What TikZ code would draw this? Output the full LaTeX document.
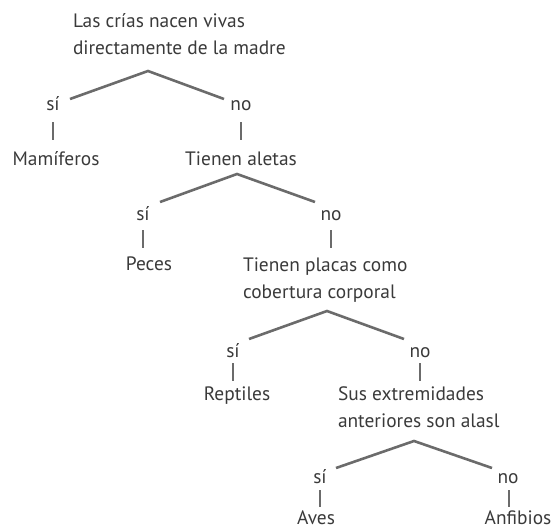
\documentclass[tikz,border=0pt]{standalone}
\usepackage{fontspec}
\setmainfont{PT Sans}
\definecolor{txtc}{HTML}{3A3A3A}
\definecolor{linec}{HTML}{6B6B6B}
\begin{document}
\begin{tikzpicture}[x=1pt,y=-1pt,
  lbl/.style={inner sep=0pt,outer sep=0pt,text=txtc,font=\fontsize{19.4}{27}\selectfont,anchor=base},
  lblw/.style={lbl,anchor=base west,align=left},
  branch/.style={draw=linec,line width=2.6pt},
  tick/.style={draw=linec,line width=2pt}]
\useasboundingbox (0,0) rectangle (559,531);
% level 1
\node[lblw] (q1) at (73,54) {Las crías nacen vivas\\directamente de la madre};
\coordinate (p1) at (148,71);
\coordinate (p1l) at (70,99);
\coordinate (p1r) at (224,99);
\node[lbl] (s1) at (53,110) {sí};
\node[lbl] (n1) at (241,110) {no};
\coordinate (t1a) at (53,122); \coordinate (t1b) at (53,140);
\coordinate (u1a) at (241,122); \coordinate (u1b) at (241,140);
\node[lbl] (a1) at (56,165) {Mamíferos};
\node[lbl] (q2) at (241,165) {Tienen aletas};
\draw[branch] (p1l) -- (p1) -- (p1r);
\draw[tick] (t1a) -- (t1b);
\draw[tick] (u1a) -- (u1b);
% level 2
\coordinate (p2) at (237,174);
\coordinate (p2l) at (160,202);
\coordinate (p2r) at (315,202);
\node[lbl] (s2) at (143,220) {sí};
\node[lbl] (n2) at (331,220) {no};
\coordinate (t2a) at (143,230); \coordinate (t2b) at (143,248);
\coordinate (u2a) at (331,230); \coordinate (u2b) at (331,248);
\node[lbl] (a2) at (149,270) {Peces};
\node[lblw] (q3) at (243,298) {Tienen placas como\\cobertura corporal};
\draw[branch] (p2l) -- (p2) -- (p2r);
\draw[tick] (t2a) -- (t2b);
\draw[tick] (u2a) -- (u2b);
% level 3
\coordinate (p3) at (327,311);
\coordinate (p3l) at (249,339);
\coordinate (p3r) at (404,339);
\node[lbl] (s3) at (233,357) {sí};
\node[lbl] (n3) at (420,357) {no};
\coordinate (t3a) at (233,363); \coordinate (t3b) at (233,381);
\coordinate (u3a) at (420,363); \coordinate (u3b) at (420,381);
\node[lbl] (a3) at (237,400) {Reptiles};
\node[lblw] (q4) at (338,427) {Sus extremidades\\anteriores son alasl};
\draw[branch] (p3l) -- (p3) -- (p3r);
\draw[tick] (t3a) -- (t3b);
\draw[tick] (u3a) -- (u3b);
% level 4
\coordinate (p4) at (414,441);
\coordinate (p4l) at (336,468);
\coordinate (p4r) at (492,468);
\node[lbl] (s4) at (320,483) {sí};
\node[lbl] (n4) at (508,483) {no};
\coordinate (t4a) at (320,490); \coordinate (t4b) at (320,507);
\coordinate (u4a) at (509,490); \coordinate (u4b) at (509,507);
\node[lbl] (a4) at (316,524) {Aves};
\node[lbl] (a5) at (518,524) {Anfibios};
\draw[branch] (p4l) -- (p4) -- (p4r);
\draw[tick] (t4a) -- (t4b);
\draw[tick] (u4a) -- (u4b);
\end{tikzpicture}
\end{document}
